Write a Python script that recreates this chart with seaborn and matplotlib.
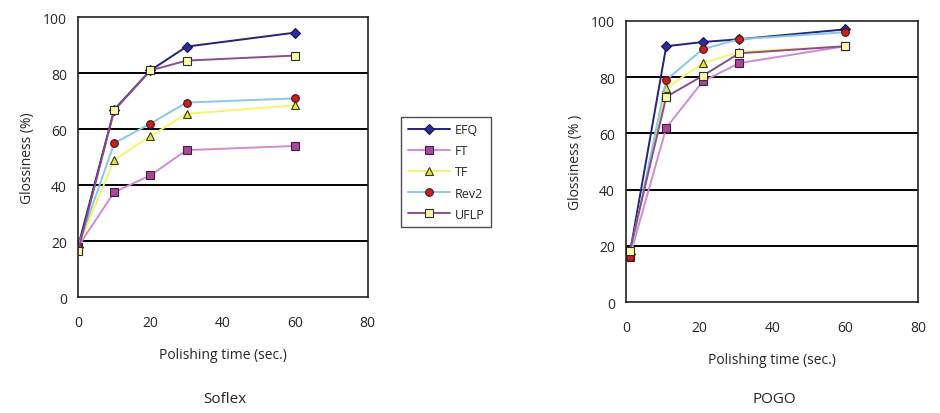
import numpy as np
import pandas as pd
import matplotlib
matplotlib.use("Agg")
import matplotlib.pyplot as plt
import seaborn as sns

# %% data
materials = ["EFQ", "FT", "TF", "Rev2", "UFLP"]

soflex_time = [0, 10, 20, 30, 60]
soflex_efq = [18, 67, 81, 89.5, 94.5]
soflex_ft = [18, 37.5, 43.5, 52.5, 54]
soflex_tf = [18, 49, 57.5, 65.5, 68.5]
soflex_rev2 = [18, 55, 62, 69.5, 71]
soflex_uflp = [16.5, 66.7, 81, 84.5, 86.3]

pogo_time = [1, 11, 21, 31, 60]
pogo_efq = [17, 91, 92.5, 93.5, 97]
pogo_ft = [16, 62, 78.5, 85, 91]
pogo_tf = [17, 76, 85, 89, 91]
pogo_rev2 = [16, 79, 90, 93.5, 96]
pogo_uflp = [18, 73, 80.5, 88.5, 91]

# %% styles
sns.set_style("white")
plt.rcParams["font.family"] = ["Open Sans", "DejaVu Sans"]

styles = {
    "EFQ": dict(color="#23237e", marker="D", mfc="#2b2ba0", mec="#15154a", ms=5),
    "FT": dict(color="#d58ad0", marker="s", mfc="#a8489a", mec="#4a1a40", ms=6),
    "TF": dict(color="#f5f56a", marker="^", mfc="#e6e640", mec="#3a3a10", ms=6),
    "Rev2": dict(color="#86c8e6", marker="o", mfc="#c42222", mec="#501010", ms=5.5),
    "UFLP": dict(color="#8c4c8c", marker="s", mfc="#fbfba8", mec="#2e2e2e", ms=6),
}


def long_table(time, series):
    rows = []
    for name, vals in zip(materials, series):
        for t, v in zip(time, vals):
            rows.append((name, t, v))
    return pd.DataFrame(rows, columns=["material", "time", "gloss"])


soflex = long_table(soflex_time, [soflex_efq, soflex_ft, soflex_tf, soflex_rev2, soflex_uflp])
pogo = long_table(pogo_time, [pogo_efq, pogo_ft, pogo_tf, pogo_rev2, pogo_uflp])

# %%
fig = plt.figure(figsize=(9.4, 4.14), dpi=100)
ax1 = fig.add_axes([0.083, 0.280, 0.308, 0.676])
ax2 = fig.add_axes([0.666, 0.268, 0.311, 0.679])

for ax, df, ylab, title, tx in [(ax1, soflex, "Glossiness (%)", "Soflex", 0.239),
                                (ax2, pogo, "Glossiness (% )", "POGO", 0.824)]:
    for name in materials:
        st = styles[name]
        sub = df[df["material"] == name]
        sns.lineplot(data=sub, x="time", y="gloss", ax=ax, color=st["color"],
                     marker=st["marker"], markerfacecolor=st["mfc"],
                     markeredgecolor=st["mec"], markersize=st["ms"],
                     markeredgewidth=0.8, linewidth=1.4, label=name, legend=False)
    ax.set_xlim(0, 80)
    ax.set_ylim(0, 100)
    ax.set_xticks([0, 20, 40, 60, 80])
    ax.set_yticks([0, 20, 40, 60, 80, 100])
    for yv in [20, 40, 60, 80]:
        ax.axhline(yv, color="black", linewidth=1.4, zorder=0)
    for s in ax.spines.values():
        s.set_color("#222222")
        s.set_linewidth(1.2)
    ax.tick_params(axis="y", length=0, labelsize=10, pad=8)
    ax.tick_params(axis="x", length=0, labelsize=10, pad=13)
    ax.set_ylabel(ylab, fontsize=10, labelpad=6)
    ax.set_xlabel("Polishing time (sec.)", fontsize=10, labelpad=12)
    fig.text(tx, 0.034, title, ha="center", va="center", fontsize=11)

handles, labels = ax1.get_legend_handles_labels()
leg = fig.legend(handles, labels, loc="upper left", bbox_to_anchor=(0.427, 0.715),
                 borderaxespad=0, frameon=True, fancybox=False, fontsize=9,
                 handlelength=3.4, labelspacing=0.65, borderpad=0.5, handletextpad=0.4)
leg.get_frame().set_edgecolor("#222222")
leg.get_frame().set_linewidth(1.0)

fig.savefig("out.png", dpi=100)
